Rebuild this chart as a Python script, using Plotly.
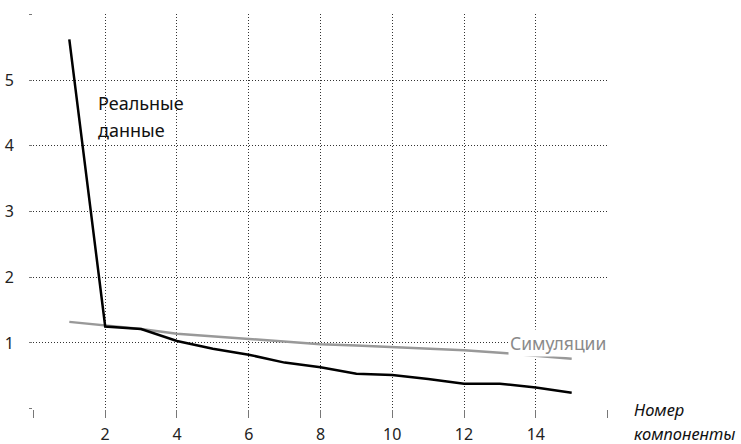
import plotly.graph_objects as go

components = list(range(1, 16))
real_data = [5.62, 1.25, 1.21, 1.03, 0.91, 0.82, 0.70, 0.63, 0.53, 0.51, 0.45, 0.38, 0.38, 0.32, 0.24]
simulations = [1.32, 1.27, 1.21, 1.14, 1.10, 1.06, 1.02, 0.98, 0.96, 0.94, 0.91, 0.89, 0.85, 0.80, 0.76]

x_ticks = [0, 2, 4, 6, 8, 10, 12, 14, 16]
x_labels = ["", "2", "4", "6", "8", "10", "12", "14", ""]
y_ticks = [0, 1, 2, 3, 4, 5, 6]
y_labels = ["", "1", "2", "3", "4", "5", ""]

FONT = "Noto Sans"

fig = go.Figure()
fig.add_trace(go.Scatter(x=components, y=simulations, mode="lines",
                         line=dict(color="#999999", width=2.5), showlegend=False))
fig.add_trace(go.Scatter(x=components, y=real_data, mode="lines",
                         line=dict(color="#000000", width=2.5), showlegend=False))

fig.add_annotation(x=1.75, y=4.65, xref="x", yref="y", text="Реальные", showarrow=False,
                   xanchor="left", yanchor="middle", font=dict(family=FONT, size=18, color="#111"))
fig.add_annotation(x=1.75, y=4.24, xref="x", yref="y", text="данные", showarrow=False,
                   xanchor="left", yanchor="middle", font=dict(family=FONT, size=18, color="#111"))
fig.add_annotation(x=16, y=1.0, xref="x", yref="y", text="Симуляции", showarrow=False,
                   xanchor="right", yanchor="middle", bgcolor="white", borderpad=1,
                   font=dict(family=FONT, size=17.5, color="#8a8a8a"))
fig.add_annotation(x=1.043, y=0.0, xref="paper", yref="paper", text="<i>Номер</i>", showarrow=False,
                   xanchor="left", yanchor="middle", borderpad=0,
                   font=dict(family=FONT, size=16.5, color="#111"))
fig.add_annotation(x=1.043, y=-0.062, xref="paper", yref="paper", text="<i>компоненты</i>", showarrow=False,
                   xanchor="left", yanchor="middle", borderpad=0,
                   font=dict(family=FONT, size=16.5, color="#111"))

grid = dict(showgrid=True, gridcolor="#333333", gridwidth=1, griddash="1px,2px",
            zeroline=False, showline=False, ticks="outside", tickcolor="#777777",
            tickwidth=1, automargin=False, tickfont=dict(family=FONT, size=16, color="#222"))

fig.update_xaxes(range=[-0.012, 16.012], tickvals=x_ticks, ticktext=x_labels,
                 ticklen=8, ticklabelstandoff=3, **grid)
fig.update_yaxes(range=[-0.006, 6.006], tickvals=y_ticks, ticktext=y_labels,
                 ticklen=3, ticklabelstandoff=12, **grid)

fig.update_layout(width=741, height=444, margin=dict(l=33, r=133, t=14, b=35),
                  paper_bgcolor="white", plot_bgcolor="white", showlegend=False)

fig.write_html("out.html", config={"displayModeBar": False},
               post_script="document.body.style.margin='0';")
